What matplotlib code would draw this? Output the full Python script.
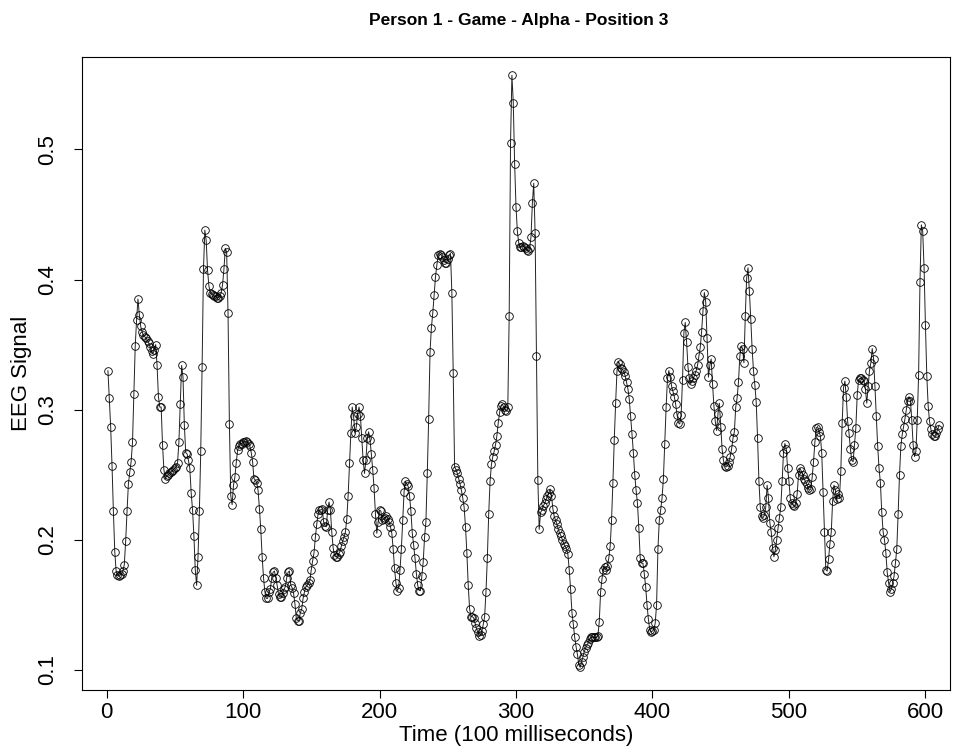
#!/usr/bin/env python3
"""EEG signal trace, person 1 / game / alpha / position 3 -> out.png"""

import numpy as np
import matplotlib
matplotlib.use("Agg")
import matplotlib.pyplot as plt

plt.rcParams['font.family'] = ['Liberation Sans', 'DejaVu Sans']

# =====================================
# Data
# =====================================
TITLE = "Person 1 - Game - Alpha - Position 3"
X_LABEL = "Time (100 milliseconds)"
Y_LABEL = "EEG Signal"
X_TICKS = [0, 100, 200, 300, 400, 500, 600]
Y_TICKS = [0.1, 0.2, 0.3, 0.4, 0.5]

signal = [
    0.330, 0.309, 0.287, 0.257, 0.222, 0.191, 0.176, 0.173, 0.172, 0.173,
    0.174, 0.176, 0.181, 0.199, 0.222, 0.243, 0.252, 0.260, 0.275, 0.312,
    0.349, 0.369, 0.385, 0.373, 0.364, 0.360, 0.357, 0.356, 0.355, 0.353,
    0.351, 0.348, 0.345, 0.343, 0.346, 0.350, 0.334, 0.310, 0.302, 0.302,
    0.273, 0.254, 0.247, 0.249, 0.250, 0.251, 0.252, 0.253, 0.254, 0.255,
    0.256, 0.259, 0.275, 0.304, 0.334, 0.325, 0.288, 0.267, 0.266, 0.261,
    0.255, 0.236, 0.223, 0.203, 0.177, 0.165, 0.187, 0.222, 0.268, 0.333,
    0.408, 0.438, 0.430, 0.407, 0.395, 0.390, 0.389, 0.388, 0.387, 0.387,
    0.386, 0.386, 0.387, 0.390, 0.396, 0.408, 0.424, 0.421, 0.374, 0.289,
    0.234, 0.227, 0.242, 0.248, 0.259, 0.269, 0.272, 0.274, 0.274, 0.275,
    0.275, 0.276, 0.275, 0.274, 0.272, 0.267, 0.260, 0.247, 0.246, 0.244,
    0.238, 0.224, 0.208, 0.187, 0.171, 0.160, 0.155, 0.155, 0.160, 0.162,
    0.171, 0.175, 0.176, 0.171, 0.165, 0.158, 0.156, 0.156, 0.159, 0.162,
    0.164, 0.171, 0.175, 0.176, 0.165, 0.163, 0.159, 0.151, 0.140, 0.138,
    0.138, 0.144, 0.147, 0.155, 0.160, 0.164, 0.165, 0.167, 0.169, 0.177,
    0.184, 0.190, 0.202, 0.212, 0.220, 0.223, 0.223, 0.224, 0.214, 0.211,
    0.210, 0.223, 0.229, 0.223, 0.206, 0.194, 0.188, 0.187, 0.187, 0.189,
    0.191, 0.195, 0.199, 0.202, 0.206, 0.216, 0.234, 0.259, 0.282, 0.302,
    0.295, 0.282, 0.287, 0.297, 0.302, 0.295, 0.278, 0.261, 0.251, 0.261,
    0.278, 0.283, 0.277, 0.266, 0.254, 0.240, 0.220, 0.205, 0.214, 0.223,
    0.222, 0.215, 0.216, 0.217, 0.218, 0.216, 0.214, 0.210, 0.205, 0.193,
    0.178, 0.167, 0.161, 0.163, 0.177, 0.193, 0.215, 0.237, 0.245, 0.243,
    0.241, 0.234, 0.222, 0.205, 0.196, 0.186, 0.174, 0.165, 0.161, 0.161,
    0.172, 0.183, 0.202, 0.214, 0.251, 0.293, 0.344, 0.363, 0.374, 0.388,
    0.402, 0.411, 0.419, 0.420, 0.419, 0.417, 0.415, 0.413, 0.413, 0.416,
    0.419, 0.420, 0.390, 0.328, 0.256, 0.254, 0.251, 0.247, 0.243, 0.238,
    0.232, 0.225, 0.210, 0.190, 0.165, 0.147, 0.141, 0.141, 0.140, 0.136,
    0.132, 0.129, 0.126, 0.127, 0.130, 0.135, 0.141, 0.160, 0.186, 0.220,
    0.245, 0.258, 0.264, 0.268, 0.273, 0.280, 0.290, 0.298, 0.303, 0.304,
    0.302, 0.300, 0.299, 0.302, 0.372, 0.505, 0.557, 0.536, 0.489, 0.456,
    0.437, 0.428, 0.425, 0.425, 0.426, 0.425, 0.424, 0.423, 0.422, 0.424,
    0.433, 0.459, 0.474, 0.436, 0.341, 0.246, 0.208, 0.221, 0.223, 0.226,
    0.228, 0.231, 0.234, 0.236, 0.239, 0.234, 0.224, 0.218, 0.215, 0.212,
    0.208, 0.205, 0.203, 0.200, 0.197, 0.195, 0.193, 0.189, 0.177, 0.162,
    0.144, 0.135, 0.125, 0.118, 0.112, 0.104, 0.102, 0.106, 0.110, 0.114,
    0.117, 0.119, 0.121, 0.124, 0.125, 0.125, 0.125, 0.125, 0.125, 0.126,
    0.137, 0.160, 0.170, 0.177, 0.179, 0.177, 0.180, 0.186, 0.195, 0.215,
    0.244, 0.277, 0.305, 0.330, 0.337, 0.335, 0.332, 0.331, 0.329, 0.326,
    0.321, 0.316, 0.308, 0.295, 0.281, 0.267, 0.250, 0.238, 0.228, 0.209,
    0.186, 0.182, 0.182, 0.174, 0.164, 0.150, 0.139, 0.131, 0.129, 0.130,
    0.131, 0.136, 0.150, 0.193, 0.215, 0.223, 0.232, 0.247, 0.274, 0.302,
    0.324, 0.330, 0.325, 0.318, 0.314, 0.310, 0.304, 0.296, 0.290, 0.289,
    0.296, 0.323, 0.359, 0.367, 0.352, 0.333, 0.324, 0.320, 0.322, 0.324,
    0.327, 0.330, 0.334, 0.341, 0.348, 0.360, 0.376, 0.390, 0.383, 0.355,
    0.325, 0.334, 0.339, 0.320, 0.303, 0.291, 0.284, 0.297, 0.305, 0.287,
    0.270, 0.261, 0.257, 0.256, 0.257, 0.260, 0.264, 0.270, 0.278, 0.283,
    0.302, 0.309, 0.321, 0.341, 0.349, 0.347, 0.336, 0.372, 0.401, 0.409,
    0.391, 0.370, 0.347, 0.330, 0.319, 0.306, 0.278, 0.245, 0.225, 0.218,
    0.217, 0.219, 0.225, 0.242, 0.232, 0.213, 0.206, 0.194, 0.187, 0.192,
    0.200, 0.209, 0.217, 0.225, 0.245, 0.267, 0.274, 0.270, 0.255, 0.245,
    0.232, 0.228, 0.227, 0.226, 0.228, 0.235, 0.250, 0.255, 0.253, 0.250,
    0.247, 0.245, 0.243, 0.240, 0.238, 0.239, 0.248, 0.260, 0.275, 0.286,
    0.287, 0.283, 0.280, 0.267, 0.237, 0.206, 0.177, 0.176, 0.185, 0.197,
    0.206, 0.230, 0.242, 0.238, 0.231, 0.235, 0.232, 0.253, 0.290, 0.317,
    0.322, 0.310, 0.291, 0.282, 0.270, 0.261, 0.260, 0.273, 0.286, 0.311,
    0.323, 0.324, 0.324, 0.323, 0.322, 0.316, 0.305, 0.318, 0.330, 0.336,
    0.347, 0.339, 0.318, 0.295, 0.272, 0.255, 0.244, 0.221, 0.206, 0.200,
    0.190, 0.175, 0.167, 0.160, 0.162, 0.167, 0.172, 0.182, 0.193, 0.220,
    0.250, 0.272, 0.281, 0.287, 0.293, 0.300, 0.307, 0.310, 0.307, 0.292,
    0.273, 0.264, 0.268, 0.292, 0.327, 0.398, 0.442, 0.437, 0.409, 0.365,
    0.326, 0.303, 0.291, 0.285, 0.281, 0.280, 0.280, 0.282, 0.285, 0.288,
]
time = np.arange(1, len(signal) + 1)

# =====================================
# Plot
# =====================================
W, H = 966, 748
fig = plt.figure(figsize=(W / 100, H / 100), dpi=100)
ax = fig.add_axes([82 / W, 1 - 690 / H, (950 - 82) / W, (690 - 57) / H])

ax.plot(time, signal, color='#222222', linewidth=0.7,
        marker='o', markersize=5.5, markerfacecolor='none',
        markeredgecolor='black', markeredgewidth=0.6)

ax.set_xlim(-18, 618)
ax.set_ylim(0.0846, 0.571)
ax.set_xticks(X_TICKS)
ax.set_yticks(Y_TICKS)
ax.set_xticklabels([str(t) for t in X_TICKS], fontsize=16)
ax.set_yticklabels([f"{t:.1f}" for t in Y_TICKS], fontsize=16,
                   rotation=90, va='center')
ax.tick_params(direction='out', length=6, width=0.8)
ax.tick_params(axis='x', pad=3)
ax.tick_params(axis='y', pad=11)

for sp in ax.spines.values():
    sp.set_linewidth(0.8)

# axis titles placed in pixels, as in the reference
fig.text(516 / W, 1 - 736 / H, X_LABEL, ha='center', va='center', fontsize=16)
fig.text(22 / W, 1 - 373 / H, Y_LABEL, ha='center', va='center',
         rotation=90, fontsize=16)
fig.text(519 / W, 1 - 20 / H, TITLE, ha='center', va='center',
         fontsize=12.5, fontweight='bold')

fig.savefig("out.png", dpi=100)
print("Saved: out.png")
